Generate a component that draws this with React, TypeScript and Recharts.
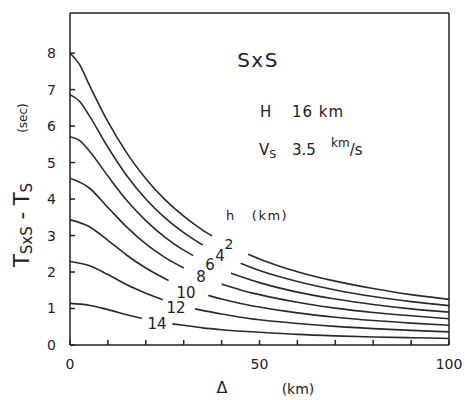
import { LineChart, Line, XAxis, YAxis } from "recharts";

type Pt = [number, number | null];

// epicentral distance ticks (km)
const deltaTicks = [0, 10, 20, 30, 40, 50, 60, 70, 80, 90, 100];
const deltaLabels = [0, 50, 100];
// time difference ticks (sec)
const tTicks = [0, 1, 2, 3, 4, 5, 6, 7, 8];

// T(SxS) - T(S), one list per focal depth; null = gap for the label
const h2: Pt[] = [[0, 8.0], [2.5, 7.69], [5, 7.15], [10, 6.12], [15, 5.26], [20, 4.56], [25, 3.99], [30, 3.53], [35, 3.15], [37.5, 2.99], [42, null], [47, 2.49], [50, 2.36], [60, 2.01], [70, 1.75], [80, 1.55], [90, 1.38], [100, 1.25]];
const h4: Pt[] = [[0, 6.86], [2.5, 6.68], [5, 6.3], [10, 5.42], [15, 4.64], [20, 4.0], [25, 3.49], [30, 3.08], [35, 2.74], [40, null], [45, 2.24], [50, 2.04], [60, 1.74], [70, 1.51], [80, 1.33], [90, 1.19], [100, 1.08]];
const h6: Pt[] = [[0, 5.71], [2.5, 5.61], [5, 5.33], [10, 4.63], [15, 3.96], [20, 3.41], [25, 2.96], [30, 2.6], [32.5, 2.45], [37.5, null], [42.5, 1.97], [45, 1.88], [50, 1.71], [60, 1.45], [70, 1.26], [80, 1.11], [90, 0.99], [100, 0.9]];
const h8: Pt[] = [[0, 4.57], [5, 4.31], [10, 3.77], [15, 3.23], [20, 2.77], [25, 2.4], [30, 2.11], [35, null], [40, 1.67], [45, 1.51], [50, 1.38], [60, 1.17], [70, 1.01], [80, 0.89], [90, 0.8], [100, 0.72]];
const h10: Pt[] = [[0, 3.43], [5, 3.25], [10, 2.87], [15, 2.46], [20, 2.11], [26, 1.77], [31, null], [36.5, 1.36], [40, 1.26], [45, 1.14], [50, 1.04], [60, 0.88], [70, 0.76], [80, 0.67], [90, 0.6], [100, 0.54]];
const h12: Pt[] = [[0, 2.29], [5, 2.18], [10, 1.93], [15, 1.65], [20, 1.42], [24.5, 1.24], [29, null], [33, 0.99], [40, 0.85], [45, 0.76], [50, 0.69], [60, 0.59], [70, 0.51], [80, 0.45], [90, 0.4], [100, 0.36]];
const h14: Pt[] = [[0, 1.14], [5, 1.09], [10, 0.97], [15, 0.83], [19, 0.73], [23, null], [27, 0.58], [30, 0.54], [35, 0.47], [40, 0.42], [50, 0.35], [60, 0.29], [70, 0.25], [80, 0.22], [90, 0.2], [100, 0.18]];

const depths = [2, 4, 6, 8, 10, 12, 14];
const curves = [h2, h4, h6, h8, h10, h12, h14];

const ink = "#222";
const font = "DejaVu Sans";

const rows = (pts: Pt[]) => pts.map(([d, t]) => ({ d, t }));

// curve labels near the gaps (pixel positions on the page)
const depthLabelPos: [number, number, number][] = [
  [229, 249, 14], [220, 261, 15], [210, 270, 15], [201, 282, 15], [186, 298, 15], [176, 313, 15], [157, 329, 15],
];

export default function App() {
  return (
    <div style={{ position: "absolute", left: 0, top: 0, width: 465, height: 400, background: "#fff" }}>
      <LineChart width={465} height={400} margin={{ top: 12, right: 15, bottom: 0, left: 0 }}>
        <XAxis
          dataKey="d"
          type="number"
          domain={[0, 100]}
          ticks={deltaTicks}
          tickFormatter={(v: number) => (deltaLabels.includes(v) ? String(v) : "")}
          height={55}
          tickSize={-5}
          tickMargin={19}
          stroke={ink}
          strokeWidth={1.5}
          tick={{ fill: ink, fontSize: 14, fontFamily: font }}
          allowDataOverflow
        />
        <XAxis xAxisId="top" orientation="top" dataKey="d" type="number" domain={[0, 100]} ticks={deltaTicks} height={1} tick={false} tickSize={-5} stroke={ink} strokeWidth={1.5} allowDataOverflow />
        <YAxis
          type="number"
          domain={[0, 9.1]}
          ticks={tTicks}
          width={70}
          tickSize={-5}
          tickMargin={19}
          stroke={ink}
          strokeWidth={1.5}
          tick={{ fill: ink, fontSize: 14, fontFamily: font }}
          allowDataOverflow
        />
        <YAxis yAxisId="right" orientation="right" type="number" domain={[0, 9.1]} ticks={tTicks} width={1} tick={false} tickSize={-5} stroke={ink} strokeWidth={1.5} allowDataOverflow />
        {curves.map((c, i) => (
          <Line
            key={depths[i]}
            data={rows(c)}
            dataKey="t"
            name={`h ${depths[i]} km`}
            type="monotone"
            stroke="#2a2a2a"
            strokeWidth={1.6}
            dot={false}
            isAnimationActive={false}
          />
        ))}
        {/* invisible copy so the frame axes (top / right) get drawn */}
        <Line
          data={rows(h2)}
          dataKey="t"
          xAxisId="top"
          yAxisId="right"
          stroke="none"
          dot={false}
          legendType="none"
          isAnimationActive={false}
        />
        <g fill={ink} fontFamily={font}>
          <text x={258} y={67} fontSize={20} textAnchor="middle" letterSpacing={1.5}>SxS</text>
          <text x={260} y={117} fontSize={15}>H</text>
          <text x={292} y={117} fontSize={15} letterSpacing={1}>16 km</text>
          <text x={259} y={155} fontSize={15}>V<tspan fontSize={11} dy={3}>S</tspan></text>
          <text x={292} y={155} fontSize={15}>3.5</text>
          <text x={331} y={147} fontSize={12}>km<tspan fontSize={15} dy={8}>/s</tspan></text>
          <text x={230} y={220} fontSize={13} textAnchor="middle">h</text>
          <text x={270} y={220} fontSize={13} textAnchor="middle" letterSpacing={1.5}>(km)</text>
          {depthLabelPos.map(([x, y, fs], i) => (
            <text key={depths[i]} x={x} y={y} fontSize={fs} textAnchor="middle">{depths[i]}</text>
          ))}
          <text x={222} y={393} fontSize={16} textAnchor="middle">Δ</text>
          <text x={298} y={394} fontSize={14} textAnchor="middle">(km)</text>
          <text x={29} y={225} fontSize={21} textAnchor="middle" transform="rotate(-90 29 225)">
            T<tspan fontSize={15} dy={3}>SxS</tspan><tspan dy={-3}> - T</tspan><tspan fontSize={15} dy={3}>S</tspan>
          </text>
          <text x={27} y={118} fontSize={12} textAnchor="middle" transform="rotate(-90 27 118)">(sec)</text>
        </g>
      </LineChart>
    </div>
  );
}
